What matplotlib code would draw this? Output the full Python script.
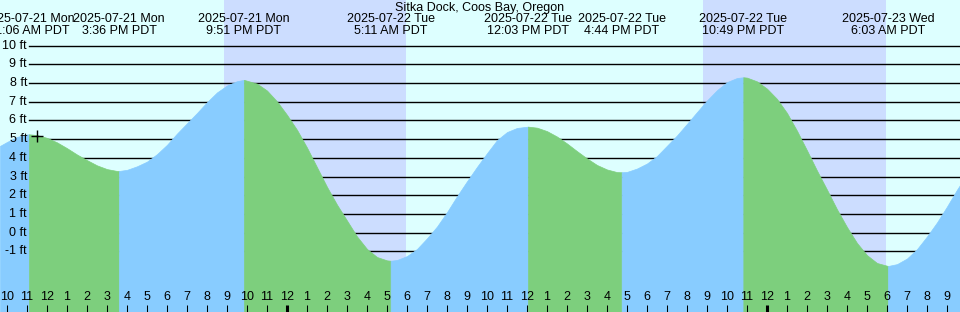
import matplotlib
matplotlib.use("Agg")
import matplotlib.pyplot as plt
import numpy as np

plt.rcParams['font.family'] = ['Liberation Sans', 'DejaVu Sans']

title = "Sitka Dock, Coos Bay, Oregon"

# Hours relative to 2025-07-22 00:00 PDT
x_start, x_end = -14.35, 33.65

# Tide extremes (time in hours from 2025-07-22 00:00, height in ft)
extreme_hours = [-12.9, -8.4, -2.15, 5.183, 12.05, 16.733, 22.817, 30.05]
extreme_heights = [5.26, 3.3, 8.17, -1.5, 5.67, 3.23, 8.31, -1.78]
extreme_dates = ["2025-07-21 Mon", "2025-07-21 Mon", "2025-07-21 Mon", "2025-07-22 Tue",
                 "2025-07-22 Tue", "2025-07-22 Tue", "2025-07-22 Tue", "2025-07-23 Wed"]
extreme_times = ["11:06 AM PDT", "3:36 PM PDT", "9:51 PM PDT", "5:11 AM PDT",
                 "12:03 PM PDT", "4:44 PM PDT", "10:49 PM PDT", "6:03 AM PDT"]

# Water level readings taken from the curve (hours, ft)
sample_hours = [-14.35, -14.0, -13.5, -13.0, -12.9, -12.5, -12.0, -11.5, -11.0, -10.5,
                -10.0, -9.5, -9.0, -8.5, -8.4, -8.0, -7.5, -7.0, -6.5, -6.0,
                -5.5, -5.0, -4.5, -4.0, -3.5, -3.0, -2.5, -2.15, -1.5, -1.0,
                -0.5, 0.0, 0.5, 1.0, 1.5, 2.0, 2.5, 3.0, 3.5, 4.0,
                4.5, 5.0, 5.183, 5.5, 6.0, 6.5, 7.0, 7.5, 8.0, 8.5,
                9.0, 9.5, 10.0, 10.5, 11.0, 11.5, 12.05, 12.5, 13.0, 13.5,
                14.0, 14.5, 15.0, 15.5, 16.0, 16.5, 16.733, 17.0, 17.5, 18.0,
                18.5, 19.0, 19.5, 20.0, 20.5, 21.0, 21.5, 22.0, 22.5, 22.817,
                23.0, 23.5, 24.0, 24.5, 25.0, 25.5, 26.0, 26.5, 27.0, 27.5,
                28.0, 28.5, 29.0, 29.5, 30.05, 30.5, 31.0, 31.5, 32.0, 32.5,
                33.0, 33.5, 33.65]
sample_heights = [4.64, 4.85, 5.12, 5.25, 5.26, 5.22, 5.07, 4.83, 4.52, 4.18,
                  3.88, 3.6, 3.4, 3.3, 3.3, 3.36, 3.55, 3.8, 4.2, 4.7,
                  5.3, 5.85, 6.4, 6.98, 7.5, 7.87, 8.1, 8.17, 7.97, 7.6,
                  7.02, 6.3, 5.5, 4.55, 3.5, 2.45, 1.5, 0.65, -0.2, -0.87,
                  -1.3, -1.48, -1.5, -1.46, -1.25, -0.87, -0.3, 0.33, 1.1, 1.95,
                  2.75, 3.52, 4.25, 4.95, 5.38, 5.6, 5.67, 5.615, 5.43, 5.14,
                  4.77, 4.36, 3.97, 3.62, 3.38, 3.24, 3.23, 3.25, 3.43, 3.7,
                  4.1, 4.65, 5.2, 5.82, 6.45, 7.07, 7.62, 8.05, 8.27, 8.31,
                  8.29, 8.09, 7.7, 7.15, 6.4, 5.45, 4.4, 3.32, 2.3, 1.25,
                  0.3, -0.55, -1.2, -1.62, -1.78, -1.68, -1.38, -0.88, -0.2, 0.55,
                  1.4, 2.3, 2.55]

# Night periods (sunset -> sunrise), hours
night_starts = [-3.15, 20.8]
night_ends = [5.95, 29.95]

level_lines = [10, 9, 8, 7, 6, 5, 4, 3, 2, 1, 0, -1]
level_labels = ["10 ft", "9 ft", "8 ft", "7 ft", "6 ft", "5 ft", "4 ft", "3 ft",
                "2 ft", "1 ft", "0 ft", "-1 ft"]

tick_hours = list(range(-14, 34))
tick_labels = [str((h % 12) if (h % 12) != 0 else 12) for h in tick_hours]

marker_hour, marker_height = -12.5, 5.19

day_color = "#ddffff"
night_color = "#ccddff"
rise_color = "#88ccff"
fall_color = "#7dcf7d"

fig = plt.figure(figsize=(9.6, 3.12), dpi=100)
ax = fig.add_axes([0, 0, 1, 1])
ax.set_xlim(x_start, x_end)
ax.set_ylim(-4.24, 12.44)
ax.axis("off")
ax.set_facecolor(day_color)
fig.patch.set_facecolor(day_color)

for s, e in zip(night_starts, night_ends):
    ax.axvspan(s, e, color=night_color, lw=0, zorder=0)

for lv in level_lines:
    ax.axhline(lv, xmin=29 / 960, xmax=1, color="black", lw=1.0, zorder=1)

yt = ax.get_yaxis_transform()
for lv, lab in zip(level_lines, level_labels):
    ax.text(27 / 960, lv, lab, transform=yt, ha="right", va="center",
            fontsize=9, zorder=5)

sh = np.array(sample_hours)
sv = np.array(sample_heights)
bounds = [x_start] + list(extreme_hours) + [x_end]
for i in range(len(bounds) - 1):
    t0, t1 = bounds[i], bounds[i + 1]
    m = (sh >= t0 - 1e-9) & (sh <= t1 + 1e-9)
    seg_h, seg_v = sh[m], sv[m]
    color = rise_color if seg_v[-1] > seg_v[0] else fall_color
    ax.fill_between(seg_h, -5, seg_v, color=color, lw=0.5, ec=color, zorder=2)

ax.plot([marker_hour], [marker_height], marker="+", color="black", ms=9, mew=1.0,
        zorder=4)

xt = ax.get_xaxis_transform()
ax.text(0.5, 1 - 7.5 / 312, title, transform=ax.transAxes, ha="center", va="center",
        fontsize=9, zorder=5)
for h, d, t in zip(extreme_hours, extreme_dates, extreme_times):
    ax.text(h, 1 - 19.5 / 312, d, transform=xt, ha="center", va="center",
            fontsize=9, zorder=5)
    ax.text(h, 1 - 31.5 / 312, t, transform=xt, ha="center", va="center",
            fontsize=9, zorder=5)

for h, lab in zip(tick_hours, tick_labels):
    lw = 2.2 if h % 24 == 0 else 0.75
    ax.vlines(h, 0, 7 / 312, transform=xt, color="black", lw=lw, zorder=4)
    ax.text(h, 1 - 297 / 312, lab, transform=xt, ha="center", va="center",
            fontsize=9, zorder=5)

fig.savefig("out.png", dpi=100, facecolor=day_color)
